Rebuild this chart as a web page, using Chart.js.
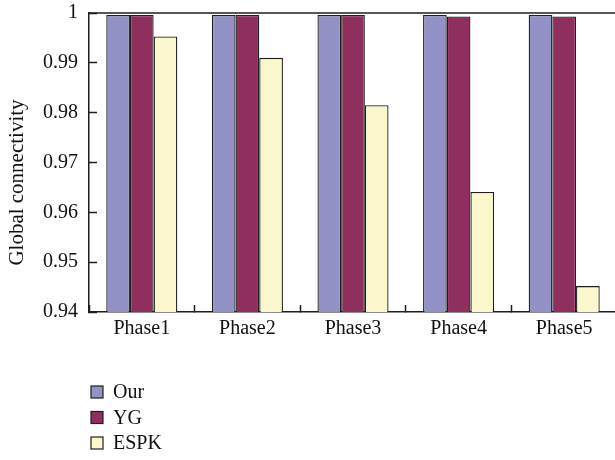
<!DOCTYPE html>
<html>
<head>
<meta charset="utf-8">
<script src="https://cdn.jsdelivr.net/npm/chart.js@4/dist/chart.umd.min.js"></script>
<style>
  html, body { margin: 0; padding: 0; background: #fff; overflow: hidden; }
  #wrap { width: 620px; height: 460px; }
</style>
</head>
<body>
<div id="wrap"><canvas id="c" width="620" height="460"></canvas></div>
<script>
// Connectivity per phase for the three schemes
const categories = ['Phase1', 'Phase2', 'Phase3', 'Phase4', 'Phase5'];
const seriesNames = ['Our', 'YG', 'ESPK'];
const ourValues = [0.9996, 0.9996, 0.9996, 0.9996, 0.9996];
const ygValues = [0.9996, 0.9996, 0.9996, 0.9993, 0.9993];
const espkValues = [0.9953, 0.9910, 0.9815, 0.9641, 0.9452];
const yTickValues = [0.94, 0.95, 0.96, 0.97, 0.98, 0.99, 1];
const yTickLabels = ['0.94', '0.95', '0.96', '0.97', '0.98', '0.99', '1'];
const yTitle = 'Global connectivity';

const fills = ['#9292c6', '#8f2f5e', '#fbf7cd'];
const ink = '#1e1e1e';
const fontFamily = '"Liberation Serif", "DejaVu Serif", serif';

// Top frame line, rotated y title and the stacked legend under the plot
const decorations = {
  id: 'decorations',
  afterDraw(chart) {
    const { ctx, chartArea } = chart;
    ctx.save();
    ctx.strokeStyle = ink;
    ctx.lineWidth = 1.5;
    ctx.beginPath();
    ctx.moveTo(chartArea.left, chartArea.top);
    ctx.lineTo(chart.width, chartArea.top);
    ctx.stroke();

    ctx.fillStyle = '#111';
    ctx.font = '21px ' + fontFamily;
    ctx.translate(17, (chartArea.top + chartArea.bottom) / 2 + 20);
    ctx.rotate(-Math.PI / 2);
    ctx.textAlign = 'center';
    ctx.textBaseline = 'middle';
    ctx.fillText(yTitle, 0, 0);
    ctx.restore();

    ctx.save();
    ctx.font = '20px ' + fontFamily;
    ctx.textBaseline = 'middle';
    chart.data.datasets.forEach((ds, i) => {
      const cy = 392 + i * 25.5;
      ctx.fillStyle = ds.backgroundColor;
      ctx.fillRect(91, cy - 6, 12, 12);
      ctx.strokeStyle = ink;
      ctx.lineWidth = 1.2;
      ctx.strokeRect(91, cy - 6, 12, 12);
      ctx.fillStyle = '#111';
      ctx.fillText(ds.label, 113, cy + 1);
    });
    ctx.restore();
  }
};

const seriesData = [ourValues, ygValues, espkValues];

new Chart(document.getElementById('c'), {
  type: 'bar',
  data: {
    labels: categories,
    datasets: seriesNames.map((name, i) => ({
      label: name,
      data: seriesData[i],
      backgroundColor: fills[i],
      borderColor: ink,
      borderWidth: 1.3,
      borderSkipped: false,
      barPercentage: 1,
      categoryPercentage: 0.673
    }))
  },
  options: {
    responsive: false,
    animation: false,
    devicePixelRatio: 1,
    layout: { padding: { top: 13, right: 3, bottom: 118, left: 0 } },
    plugins: {
      legend: { display: false },
      tooltip: { enabled: false }
    },
    scales: {
      x: {
        grid: {
          drawOnChartArea: false,
          drawTicks: true,
          tickLength: -7,
          tickWidth: 1.5,
          tickColor: ink
        },
        border: { color: ink, width: 1.5 },
        ticks: {
          color: '#111',
          font: { family: fontFamily, size: 20 },
          padding: 12,
          maxRotation: 0
        },
        afterFit(scale) {
          scale.height = 30;
          scale.paddingLeft = 0;
          scale.paddingRight = 0;
        }
      },
      y: {
        min: 0.94,
        max: 1,
        afterBuildTicks(scale) {
          scale.ticks = yTickValues.map(v => ({ value: v }));
        },
        grid: {
          drawOnChartArea: false,
          drawTicks: true,
          tickLength: -8,
          tickWidth: 1.5,
          tickColor: ink
        },
        border: { color: ink, width: 1.5 },
        ticks: {
          color: '#111',
          font: { family: fontFamily, size: 20 },
          padding: 19,
          callback: (v, i) => yTickLabels[i]
        },
        afterFit(scale) {
          scale.width = 89;
          scale.paddingTop = 0;
          scale.paddingBottom = 0;
        }
      }
    }
  },
  plugins: [decorations]
});
</script>
</body>
</html>
